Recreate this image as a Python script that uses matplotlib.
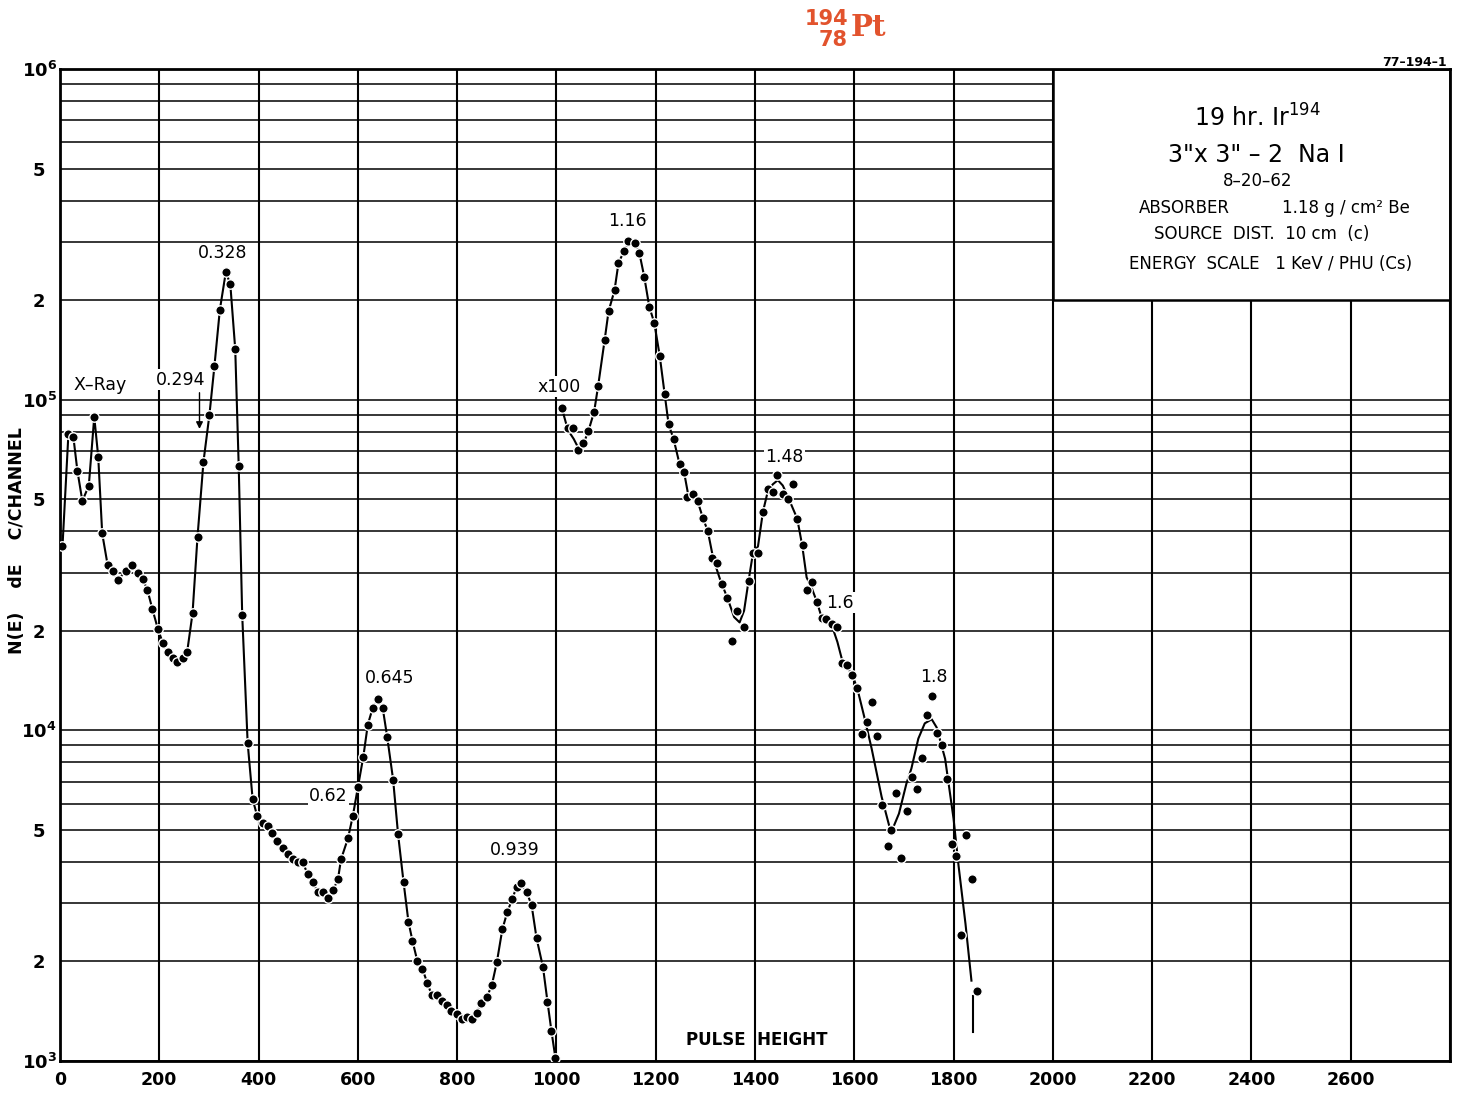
import matplotlib
matplotlib.use("Agg")
import matplotlib.pyplot as plt
from matplotlib.patches import Rectangle

plt.rcParams['font.family'] = ['DejaVu Sans']
plt.rcParams['mathtext.default'] = 'regular'

# ---------------- data ----------------
# low-energy part (as measured)
x1 = [5, 17, 27, 35, 45, 58, 69, 77, 85, 96, 106, 116, 133, 146, 157, 167, 176, 186, 197,
      207, 217, 227, 235, 248, 256, 267, 277, 289, 301, 311, 322, 334, 343, 353, 360, 367,
      378, 388, 397, 408, 418, 428, 438, 449, 459, 469, 479, 489, 499, 509, 519, 529, 539,
      550, 560, 566, 580, 590, 600, 611, 620, 630, 640, 650, 659, 671, 681, 692, 702, 710,
      720, 730, 740, 749, 759, 769, 779, 788, 799, 809, 819, 829, 839, 849, 860, 870, 880,
      891, 901, 911, 920, 928, 940, 950, 960, 973, 982, 990, 998]
y1 = [3.6e4, 7.9e4, 7.7e4, 6.1e4, 4.94e4, 5.49e4, 8.87e4, 6.72e4, 3.94e4, 3.16e4, 3.03e4,
      2.85e4, 3.03e4, 3.17e4, 3.0e4, 2.86e4, 2.66e4, 2.33e4, 2.03e4, 1.84e4, 1.72e4, 1.65e4,
      1.61e4, 1.65e4, 1.72e4, 2.26e4, 3.85e4, 6.49e4, 9.0e4, 1.26e5, 1.87e5, 2.43e5, 2.24e5,
      1.42e5, 6.3e4, 2.24e4, 9.16e3, 6.2e3, 5.52e3, 5.26e3, 5.14e3, 4.89e3, 4.63e3, 4.42e3,
      4.22e3, 4.07e3, 4.01e3, 3.99e3, 3.67e3, 3.48e3, 3.25e3, 3.24e3, 3.12e3, 3.28e3, 3.55e3,
      4.07e3, 4.71e3, 5.52e3, 6.72e3, 8.32e3, 1.04e4, 1.17e4, 1.24e4, 1.17e4, 9.57e3, 7.1e3,
      4.85e3, 3.48e3, 2.63e3, 2.31e3, 2.0e3, 1.9e3, 1.72e3, 1.58e3, 1.58e3, 1.52e3, 1.48e3,
      1.42e3, 1.39e3, 1.34e3, 1.36e3, 1.34e3, 1.40e3, 1.50e3, 1.56e3, 1.70e3, 1.99e3, 2.5e3,
      2.82e3, 3.09e3, 3.37e3, 3.46e3, 3.24e3, 2.96e3, 2.35e3, 1.92e3, 1.51e3, 1.23e3, 1.02e3]

# high-energy part (x100) - measured points
x2 = [1011, 1023, 1033, 1044, 1054, 1063, 1076, 1083, 1097, 1105, 1117, 1125, 1136, 1145,
      1158, 1167, 1177, 1187, 1197, 1208, 1218, 1226, 1236, 1248, 1257, 1263, 1275, 1285,
      1295, 1305, 1314, 1324, 1334, 1344, 1354, 1364, 1377, 1387, 1396, 1406, 1416, 1426,
      1436, 1445, 1457, 1467, 1477, 1485, 1496, 1504, 1514, 1525, 1534, 1544, 1556, 1566,
      1576, 1586, 1596, 1606, 1616, 1626, 1635, 1646, 1655, 1667, 1674, 1685, 1695, 1707,
      1716, 1726, 1736, 1746, 1757, 1767, 1776, 1787, 1796, 1805, 1815, 1826, 1837, 1847]
y2 = [9.42e4, 8.19e4, 8.19e4, 7.04e4, 7.41e4, 8.04e4, 9.2e4, 1.1e5, 1.51e5, 1.85e5, 2.14e5,
      2.59e5, 2.81e5, 3.01e5, 2.98e5, 2.78e5, 2.35e5, 1.91e5, 1.71e5, 1.36e5, 1.04e5, 8.42e4,
      7.6e4, 6.39e4, 6.05e4, 5.08e4, 5.2e4, 4.94e4, 4.39e4, 4.01e4, 3.31e4, 3.21e4, 2.77e4,
      2.51e4, 1.86e4, 2.29e4, 2.06e4, 2.82e4, 3.44e4, 3.44e4, 4.58e4, 5.37e4, 5.24e4, 5.91e4,
      5.17e4, 4.99e4, 5.55e4, 4.37e4, 3.63e4, 2.65e4, 2.81e4, 2.44e4, 2.18e4, 2.17e4, 2.1e4,
      2.05e4, 1.6e4, 1.58e4, 1.47e4, 1.34e4, 9.75e3, 1.06e4, 1.22e4, 9.64e3, 5.96e3, 4.48e3,
      5.01e3, 6.46e3, 4.12e3, 5.71e3, 7.24e3, 6.64e3, 8.25e3, 1.11e4, 1.27e4, 9.8e3, 9.04e3,
      7.13e3, 4.54e3, 4.17e3, 2.41e3, 4.81e3, 3.56e3, 1.63e3]

# hand-drawn smooth curve through the x100 points
cx2 = [1011, 1023, 1035, 1045, 1055, 1064, 1076, 1084, 1097, 1105, 1117, 1125, 1136, 1146,
       1158, 1167, 1177, 1187, 1197, 1208, 1218, 1226, 1236, 1248, 1257, 1265, 1285, 1295,
       1305, 1316, 1330, 1345, 1358, 1369, 1378, 1387, 1396, 1406, 1416, 1426, 1436, 1446,
       1456, 1466, 1476, 1485, 1495, 1504, 1514, 1525, 1534, 1545, 1556, 1566, 1576, 1586,
       1596, 1606, 1620, 1635, 1655, 1674, 1690, 1705, 1715, 1729, 1742, 1756, 1766, 1783,
       1800, 1810, 1824, 1836]
cy2 = [9.42e4, 8.1e4, 7.6e4, 7.1e4, 7.4e4, 8.0e4, 9.2e4, 1.1e5, 1.51e5, 1.85e5, 2.14e5,
       2.59e5, 2.81e5, 3.0e5, 2.98e5, 2.78e5, 2.35e5, 1.91e5, 1.71e5, 1.36e5, 1.04e5, 8.42e4,
       7.6e4, 6.39e4, 6.05e4, 5.2e4, 4.9e4, 4.39e4, 4.0e4, 3.3e4, 2.85e4, 2.5e4, 2.2e4,
       2.12e4, 2.3e4, 2.83e4, 3.44e4, 3.6e4, 4.58e4, 5.3e4, 5.55e4, 5.71e4, 5.5e4, 5.1e4,
       4.7e4, 4.37e4, 3.63e4, 2.9e4, 2.7e4, 2.44e4, 2.2e4, 2.15e4, 2.05e4, 1.85e4, 1.62e4,
       1.55e4, 1.47e4, 1.34e4, 1.1e4, 8.8e3, 6.3e3, 4.9e3, 5.6e3, 6.9e3, 7.66e3, 9.44e3,
       1.05e4, 1.08e4, 1.02e4, 8.2e3, 5.4e3, 3.9e3, 2.6e3, 1.75e3]
tail_x = [1839, 1839]
tail_y = [1.57e3, 1.22e3]

xticks = [0, 200, 400, 600, 800, 1000, 1200, 1400, 1600, 1800, 2000, 2200, 2400, 2600]
yticks = [1e3, 2e3, 5e3, 1e4, 2e4, 5e4, 1e5, 2e5, 5e5, 1e6]
ytick_labels = [r'$10^3$', '2', '5', r'$10^4$', '2', '5', r'$10^5$', '2', '5', r'$10^6$']

peak_labels = ['X\u2013Ray', '0.294', '0.328', '0.62', '0.645', '0.939',
               'x100', '1.16', '1.48', '1.6', '1.8']
peak_lx = [81, 242, 327, 541, 664, 916, 1005, 1144, 1459, 1572, 1760]
peak_ly = [1.11e5, 1.15e5, 2.77e5, 6.35e3, 1.44e4, 4.36e3, 1.096e5, 3.46e5, 6.72e4, 2.43e4, 1.45e4]

box_lines = [r'19 hr. Ir$^{194}$', '3"x 3" \u2013 2  Na I', '8\u201320\u201362',
             'SOURCE  DIST.  10 cm  (c)', 'ENERGY  SCALE   1 KeV / PHU (Cs)']
box_lx = [2412, 2410, 2412, 2420, 2438]
box_ly = [7.1e5, 5.5e5, 4.57e5, 3.16e5, 2.58e5]
box_size = [17, 17, 12, 12, 12]

# ---------------- figure ----------------
fig = plt.figure(figsize=(14.68, 10.94), dpi=100)
ax = fig.add_axes([60 / 1468, 1 - 1061 / 1094, 1390 / 1468, 992 / 1094])
ax.set_yscale('log')
ax.set_xlim(0, 2800)
ax.set_ylim(1e3, 1e6)

# grid lines
for xv in range(0, 2801, 200):
    ax.axvline(xv, color='black', lw=1.5, zorder=1)
for dec in [1e3, 1e4, 1e5]:
    for m in range(1, 10):
        ax.axhline(m * dec, color='black', lw=1.1, zorder=1)

# info box (covers grid)
ax.add_patch(Rectangle((2000, 2e5), 800, 8e5, facecolor='white', edgecolor='black',
                       lw=1.8, zorder=2))

# curves and points
ax.plot(x1, y1, color='black', lw=1.5, zorder=3)
ax.plot(x1, y1, 'o', color='black', ms=6.8, mec='white', mew=1.0, zorder=4)
ax.plot(cx2, cy2, color='black', lw=1.5, zorder=3)
ax.plot(tail_x, tail_y, color='black', lw=1.5, zorder=3)
ax.plot(x2, y2, 'o', color='black', ms=6.8, mec='white', mew=1.0, zorder=4)

# peak labels
for t, lx, ly in zip(peak_labels, peak_lx, peak_ly):
    ax.text(lx, ly, t, fontsize=12.5, ha='center', va='center', zorder=5,
            bbox=dict(facecolor='white', edgecolor='none', pad=1.0))
ax.annotate('', xy=(281, 8.0e4), xytext=(281, 1.07e5),
            arrowprops=dict(arrowstyle='-|>', color='black', lw=1.0, mutation_scale=10),
            zorder=5)
ax.text(1403, 1.16e3, 'PULSE  HEIGHT', fontsize=12, fontweight='bold', ha='center',
        va='center', zorder=5)

# box text
for t, lx, ly, fs in zip(box_lines, box_lx, box_ly, box_size):
    ax.text(lx, ly, t, fontsize=fs, ha='center', va='center', zorder=5)
ax.text(2264, 3.79e5, 'ABSORBER', fontsize=12, ha='center', va='center', zorder=5)
ax.text(2591, 3.79e5, '1.18 g / cm\u00b2 Be', fontsize=12, ha='center', va='center', zorder=5)

# ticks
ax.set_xticks(xticks)
ax.set_xticklabels([str(v) for v in xticks], fontsize=12.5, fontweight='bold')
ax.set_yticks(yticks)
ax.set_yticklabels(ytick_labels, fontsize=13, fontweight='bold', ha='center')
ax.yaxis.set_minor_locator(matplotlib.ticker.NullLocator())
ax.tick_params(axis='both', length=0)
ax.tick_params(axis='x', pad=7)
ax.tick_params(axis='y', pad=15)
for s in ax.spines.values():
    s.set_linewidth(2.0)

ax.text(-0.031, 0.525, 'N(E)    dE    C/CHANNEL', transform=ax.transAxes, rotation=90,
        fontsize=12.5, fontweight='bold', ha='center', va='center')

# title
red = '#E2532D'
fig.text(848 / 1468, 1 - 19 / 1094, '194', color=red, fontsize=15, fontweight='bold',
         ha='right', va='center')
fig.text(848 / 1468, 1 - 40 / 1094, '78', color=red, fontsize=15, fontweight='bold',
         ha='right', va='center')
fig.text(851 / 1468, 1 - 28 / 1094, 'Pt', color=red, fontsize=21, fontweight='bold',
         family='DejaVu Serif', ha='left', va='center')
fig.text(1414 / 1468, 1 - 62 / 1094, '77\u2013194\u20131', fontsize=9, fontweight='bold',
         ha='center', va='center')

fig.savefig('out.png', dpi=100)
